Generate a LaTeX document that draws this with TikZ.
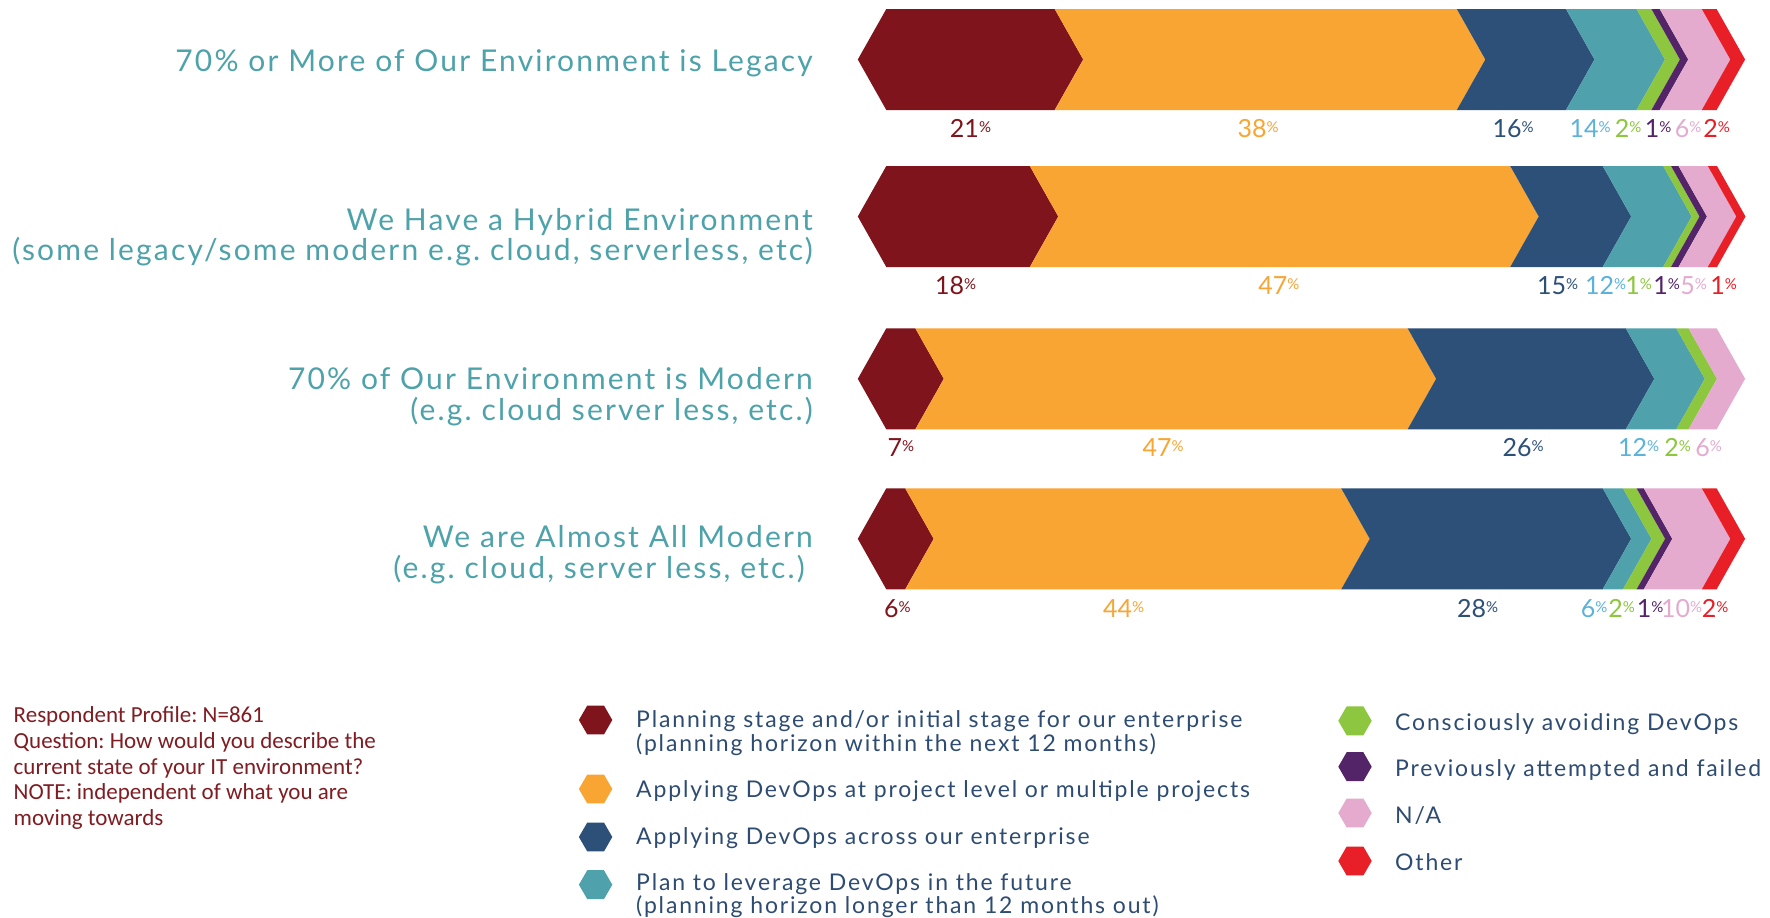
\documentclass[tikz,border=0pt]{standalone}
\usepackage{fontspec}
\usetikzlibrary{shapes.geometric}
\setmainfont{Lato}
\newfontfamily\latoR[LetterSpace=7.2]{Lato}
\newfontfamily\latoL[LetterSpace=8]{Lato}
\newfontfamily\carl{Carlito}
\frenchspacing
\definecolor{dred}{HTML}{7F141C}
\definecolor{orng}{HTML}{F9A533}
\definecolor{navy}{HTML}{2D5078}
\definecolor{teal}{HTML}{4FA2AB}
\definecolor{lgreen}{HTML}{8DC63F}
\definecolor{purp}{HTML}{532468}
\definecolor{pnk}{HTML}{E4ABCF}
\definecolor{rd}{HTML}{E81F27}
\definecolor{lblue}{HTML}{5BB2DA}
\definecolor{ttext}{HTML}{4EA2AA}
\definecolor{ltext}{HTML}{2E4C72}
\definecolor{rtext}{HTML}{7F1D22}
\def\D{28.5}
\newcommand\hexseg[5]{\fill[#1] (#2,#4) -- (#3,#4) -- ({#3+\D},{(#4+#5)/2}) -- (#3,#5) -- (#2,#5) -- ({#2-\D},{(#4+#5)/2}) -- cycle;}
\newcommand\chevseg[5]{\fill[#1] (#2,#4) -- (#3,#4) -- ({#3+\D},{(#4+#5)/2}) -- (#3,#5) -- (#2,#5) -- ({#2+\D},{(#4+#5)/2}) -- cycle;}
\newcommand\pc[1]{{\fontsize{25}{25}\selectfont #1}{\fontsize{15}{15}\selectfont\raisebox{5pt}{\%}}}
\tikzset{
  plab/.style={anchor=base, inner sep=0pt},
  rowlab/.style={anchor=base east, inner sep=0pt, text=ttext, font=\latoR\fontsize{30}{30}\selectfont},
  legtext/.style={anchor=base west, inner sep=0pt, text=ltext, font=\latoL\fontsize{23}{23}\selectfont},
  resp/.style={anchor=base west, inner sep=0pt, text=rtext, font=\carl\fontsize{23}{23}\selectfont},
  leghex/.style={regular polygon, regular polygon sides=6, minimum size=33.4pt, inner sep=0pt, fill=#1}
}
\begin{document}
\begin{tikzpicture}[x=1pt,y=-1pt]
\fill[white] (0,0) rectangle (1770,918);
\useasboundingbox (0,0) rectangle (1770,918);
% Row 1
\hexseg{dred}{886.3}{1054.7}{9}{110}
\chevseg{orng}{1054.7}{1456.8}{9}{110}
\chevseg{navy}{1456.8}{1566}{9}{110}
\chevseg{teal}{1566}{1636.5}{9}{110}
\chevseg{lgreen}{1636.5}{1651.4}{9}{110}
\chevseg{purp}{1651.4}{1659.7}{9}{110}
\chevseg{pnk}{1659.7}{1701.8}{9}{110}
\chevseg{rd}{1701.8}{1716.6}{9}{110}
% Row 2
\hexseg{dred}{886.3}{1029.8}{166}{267}
\chevseg{orng}{1029.8}{1510.2}{166}{267}
\chevseg{navy}{1510.2}{1602.7}{166}{267}
\chevseg{teal}{1602.7}{1663.2}{166}{267}
\chevseg{lgreen}{1663.2}{1671}{166}{267}
\chevseg{purp}{1671}{1678.5}{166}{267}
\chevseg{pnk}{1678.5}{1707.8}{166}{267}
\chevseg{rd}{1707.8}{1717}{166}{267}
% Row 3
\hexseg{dred}{886.3}{915.3}{328.3}{429.3}
\chevseg{orng}{915.3}{1407.6}{328.3}{429.3}
\chevseg{navy}{1407.6}{1625.8}{328.3}{429.3}
\chevseg{teal}{1625.8}{1676.3}{328.3}{429.3}
\chevseg{lgreen}{1676.3}{1688.5}{328.3}{429.3}
\chevseg{pnk}{1688.5}{1716.6}{328.3}{429.3}
% Row 4
\hexseg{dred}{886.3}{905.2}{488.3}{589.3}
\chevseg{orng}{905.2}{1341.2}{488.3}{589.3}
\chevseg{navy}{1341.2}{1602.7}{488.3}{589.3}
\chevseg{teal}{1602.7}{1623}{488.3}{589.3}
\chevseg{lgreen}{1623}{1636.6}{488.3}{589.3}
\chevseg{purp}{1636.6}{1643.8}{488.3}{589.3}
\chevseg{pnk}{1643.8}{1701.8}{488.3}{589.3}
\chevseg{rd}{1701.8}{1716.6}{488.3}{589.3}
% Row labels
\node[rowlab] (r1) at (813,71.7) {70\% or More of Our Environment is Legacy};
\node[rowlab] (r2a) at (813,230) {We Have a Hybrid Environment};
\node[rowlab] (r2b) at (813,260.7) {(some legacy/some modern e.g. cloud, serverless, etc)};
\node[rowlab] (r3a) at (813,389) {70\% of Our Environment is Modern};
\node[rowlab] (r3b) at (813,420.7) {(e.g. cloud server less, etc.)};
\node[rowlab] (r4a) at (813,547.3) {We are Almost All Modern};
\node[rowlab] (r4b) at (805,578.3) {(e.g. cloud, server less, etc.)};
% Percent labels row 1
\node[plab,text=dred] (p11) at (970.5,137) {\pc{21}};
\node[plab,text=orng] (p12) at (1258,137) {\pc{38}};
\node[plab,text=navy] (p13) at (1513,137) {\pc{16}};
\node[plab,text=lblue] (p14) at (1590,137) {\pc{14}};
\node[plab,text=lgreen] (p15) at (1628,137) {\pc{2}};
\node[plab,text=purp] (p16) at (1658,137) {\pc{1}};
\node[plab,text=pnk] (p17) at (1688,137) {\pc{6}};
\node[plab,text=rd] (p18) at (1716.6,137) {\pc{2}};
% row 2
\node[plab,text=dred] (p21) at (955.7,294) {\pc{18}};
\node[plab,text=orng] (p22) at (1278.9,294) {\pc{47}};
\node[plab,text=navy] (p23) at (1557.5,294) {\pc{15}};
\node[plab,text=lblue] (p24) at (1605.5,294) {\pc{12}};
\node[plab,text=lgreen] (p25) at (1638.5,294) {\pc{1}};
\node[plab,text=purp] (p26) at (1666.5,294) {\pc{1}};
\node[plab,text=pnk] (p27) at (1693.5,294) {\pc{5}};
\node[plab,text=rd] (p28) at (1723.5,294) {\pc{1}};
% row 3
\node[plab,text=dred] (p31) at (901,456) {\pc{7}};
\node[plab,text=orng] (p32) at (1163,456) {\pc{47}};
\node[plab,text=navy] (p33) at (1523,456) {\pc{26}};
\node[plab,text=lblue] (p34) at (1638.5,456) {\pc{12}};
\node[plab,text=lgreen] (p35) at (1677.5,456) {\pc{2}};
\node[plab,text=pnk] (p36) at (1708.5,456) {\pc{6}};
% row 4
\node[plab,text=dred] (p41) at (897.5,617) {\pc{6}};
\node[plab,text=orng] (p42) at (1123.5,617) {\pc{44}};
\node[plab,text=navy] (p43) at (1477.6,617) {\pc{28}};
\node[plab,text=lblue] (p44) at (1594,617) {\pc{6}};
\node[plab,text=lgreen] (p45) at (1621.5,617) {\pc{2}};
\node[plab,text=purp] (p46) at (1650,617) {\pc{1}};
\node[plab,text=pnk] (p47) at (1681.5,617) {\pc{10}};
\node[plab,text=rd] (p48) at (1715,617) {\pc{2}};
% Respondent text
\node[resp] (q1) at (13.5,722.7) {Respondent Profile: N=861};
\node[resp] (q2) at (13.5,748.3) {Question: How would you describe the};
\node[resp] (q3) at (13.5,774) {current state of your IT environment?};
\node[resp] (q4) at (13.5,799.3) {NOTE: independent of what you are};
\node[resp] (q5) at (13.5,825) {moving towards};
% Legend left
\node[leghex=dred] (h1) at (595.6,720) {};
\node[leghex=orng] (h2) at (595.6,789) {};
\node[leghex=navy] (h3) at (595.6,837) {};
\node[leghex=teal] (h4) at (595.6,884.7) {};
\node[legtext] (t1a) at (636,727.7) {Planning stage and/or initial stage for our enterprise};
\node[legtext] (t1b) at (636,751.7) {(planning horizon within the next 12 months)};
\node[legtext] (t2) at (636,797.3) {Applying DevOps at project level or multiple projects};
\node[legtext] (t3) at (636,844.3) {Applying DevOps across our enterprise};
\node[legtext] (t4a) at (636,890) {Plan to leverage DevOps in the future};
\node[legtext] (t4b) at (636,913) {(planning horizon longer than 12 months out)};
% Legend right
\node[leghex=lgreen] (h5) at (1355,720.8) {};
\node[leghex=purp] (h6) at (1355,766.7) {};
\node[leghex=pnk] (h7) at (1355,813) {};
\node[leghex=rd] (h8) at (1355,861) {};
\node[legtext] (t5) at (1395,730) {Consciously avoiding DevOps};
\node[legtext] (t6) at (1395,776) {Previously attempted and failed};
\node[legtext] (t7) at (1395,823.3) {N/A};
\node[legtext] (t8) at (1395,870) {Other};
\end{tikzpicture}
\end{document}
